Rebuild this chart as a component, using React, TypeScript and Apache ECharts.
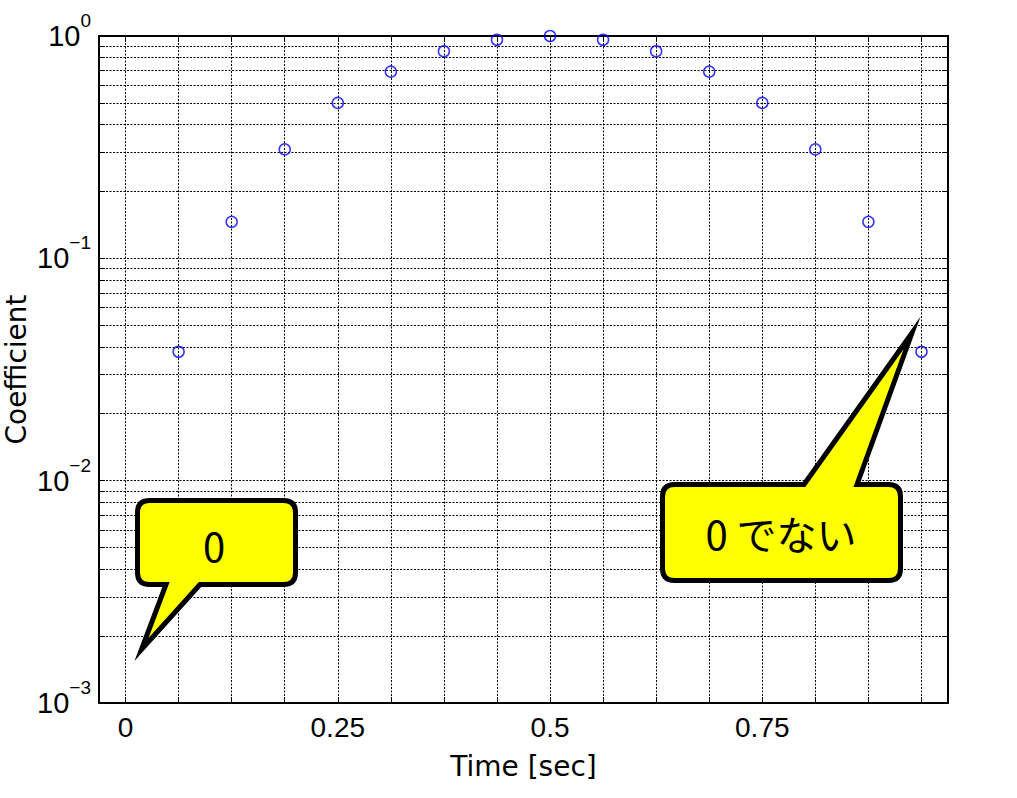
import React, { useEffect, useRef } from "react";
import * as echarts from "echarts";

const timeValues = [0.0625, 0.125, 0.1875, 0.25, 0.3125, 0.375, 0.4375, 0.5, 0.5625, 0.625, 0.6875, 0.75, 0.8125, 0.875, 0.9375];
const coefValues = [0.038, 0.146, 0.309, 0.5, 0.691, 0.854, 0.962, 1.0, 0.962, 0.854, 0.691, 0.5, 0.309, 0.146, 0.038];

const xTickValues = [0, 0.0625, 0.125, 0.1875, 0.25, 0.3125, 0.375, 0.4375, 0.5, 0.5625, 0.625, 0.6875, 0.75, 0.8125, 0.875, 0.9375];
const xLabelValues = [0, 0.25, 0.5, 0.75];
const yTickValues = [
  0.001, 0.002, 0.003, 0.004, 0.005, 0.006, 0.007, 0.008, 0.009,
  0.01, 0.02, 0.03, 0.04, 0.05, 0.06, 0.07, 0.08, 0.09,
  0.1, 0.2, 0.3, 0.4, 0.5, 0.6, 0.7, 0.8, 0.9, 1,
];
const yLabelValues = [0.001, 0.01, 0.1, 1];

const leftBubble =
  "M149.5 500.5 L283.5 500.5 Q295.5 500.5 295.5 512.5 L295.5 572.5 Q295.5 584.5 283.5 584.5 L200 584.5 L141.5 649.5 L166 584.5 L149.5 584.5 Q137.5 584.5 137.5 572.5 L137.5 512.5 Q137.5 500.5 149.5 500.5 Z";
const rightBubble =
  "M674.5 484.5 L804 484.5 L912 333 L857 484.5 L888.5 484.5 Q900.5 484.5 900.5 496.5 L900.5 568.5 Q900.5 580.5 888.5 580.5 L674.5 580.5 Q662.5 580.5 662.5 568.5 L662.5 496.5 Q662.5 484.5 674.5 484.5 Z";

echarts.graphic.registerShape("bubbleLeft", echarts.graphic.extendPath(leftBubble, {}));
echarts.graphic.registerShape("bubbleRight", echarts.graphic.extendPath(rightBubble, {}));

const tickFont = '"Liberation Sans", Arial, sans-serif';
const nameFont = '"DejaVu Sans", sans-serif';
const dotted = { color: "#000", width: 1, type: [2, 1.5] as any };

function fmtX(v: number) {
  return String(v);
}

function fmtY(v: number) {
  const e = Math.round(Math.log10(v));
  const s = e < 0 ? "\u2212" + String(-e) : String(e);
  return "{b|10}{e|" + s + "}";
}

const yRich = {
  b: { fontFamily: tickFont, fontSize: 29, color: "#000", lineHeight: 50 },
  e: { fontFamily: tickFont, fontSize: 19, color: "#000", lineHeight: 20, verticalAlign: "top" },
};

export default function App() {
  const ref = useRef<HTMLDivElement>(null);
  useEffect(() => {
    if (!ref.current) return;
    const chart = echarts.init(ref.current, undefined, { renderer: "svg" });
    const bubbleStyle = {
      fill: "#ffff00",
      stroke: "#000",
      lineWidth: 5,
      lineJoin: "miter",
      miterLimit: 20,
    };
    chart.setOption({
      animation: false,
      backgroundColor: "#fff",
      grid: { left: 99, right: 69, top: 36, bottom: 95, containLabel: false, outerBoundsMode: "none" },
      xAxis: [
        {
          type: "value",
          position: "bottom",
          min: -0.03125,
          max: 0.96875,
          name: "Time [sec]",
          nameLocation: "middle",
          nameGap: 49,
          nameMoveOverlap: false,
          nameTextStyle: { fontFamily: nameFont, fontSize: 28, color: "#000" },
          axisLine: { show: true, onZero: false, lineStyle: { color: "#000", width: 2 } },
          axisTick: { show: true, inside: true, length: 6, customValues: xTickValues, lineStyle: { color: "#000", width: 1 } },
          axisLabel: { show: true, customValues: xLabelValues, formatter: fmtX, margin: 10, fontFamily: tickFont, fontSize: 28, color: "#000" },
          splitLine: { show: true, lineStyle: dotted },
        },
        {
          type: "value",
          position: "top",
          min: -0.03125,
          max: 0.96875,
          axisLine: { show: true, onZero: false, lineStyle: { color: "#000", width: 2 } },
          axisTick: { show: true, inside: true, length: 6, customValues: xTickValues, lineStyle: { color: "#000", width: 1 } },
          axisLabel: { show: false },
          splitLine: { show: false },
        },
      ],
      yAxis: [
        {
          type: "log",
          logBase: 10,
          position: "left",
          min: 0.001,
          max: 1,
          name: "Coefficient",
          nameLocation: "middle",
          nameGap: 68,
          nameMoveOverlap: false,
          nameTextStyle: { fontFamily: nameFont, fontSize: 28, color: "#000", lineHeight: 30 },
          axisLine: { show: true, onZero: false, lineStyle: { color: "#000", width: 2 } },
          axisTick: { show: true, inside: true, length: 6, customValues: yTickValues, lineStyle: { color: "#000", width: 1 } },
          axisLabel: { show: true, customValues: yLabelValues, formatter: fmtY, margin: 8, rich: yRich },
          splitLine: { show: true, lineStyle: dotted },
        },
        {
          type: "log",
          logBase: 10,
          position: "right",
          min: 0.001,
          max: 1,
          axisLine: { show: true, onZero: false, lineStyle: { color: "#000", width: 2 } },
          axisTick: { show: true, inside: true, length: 6, customValues: yTickValues, lineStyle: { color: "#000", width: 1 } },
          axisLabel: { show: false },
          splitLine: { show: false },
        },
      ],
      series: [
        {
          type: "scatter",
          xAxisIndex: 0,
          yAxisIndex: 0,
          symbol: "circle",
          symbolSize: 11,
          itemStyle: { color: "rgba(0,0,0,0)", borderColor: "#0000ff", borderWidth: 1.5 },
          data: timeValues.map((t, i) => [t, coefValues[i]]),
          z: 5,
        },
      ],
      graphic: [
        { type: "bubbleLeft", x: 0, y: 0, z: 100, style: bubbleStyle },
        { type: "bubbleRight", x: 0, y: 0, z: 100, style: bubbleStyle },
        {
          type: "text",
          x: 214,
          y: 545,
          z: 101,
          style: { text: "0", font: '40px "Noto Sans CJK JP"', fill: "#000", align: "center", verticalAlign: "middle", textAlign: "center", textVerticalAlign: "middle" },
        },
        {
          type: "text",
          x: 781,
          y: 533,
          z: 101,
          style: { text: "0 でない", font: '40px "Noto Sans CJK JP"', fill: "#000", align: "center", verticalAlign: "middle", textAlign: "center", textVerticalAlign: "middle" },
        },
      ],
    });
    return () => chart.dispose();
  }, []);
  return <div ref={ref} style={{ position: "absolute", left: 0, top: 0, width: 1017, height: 798 }} />;
}
